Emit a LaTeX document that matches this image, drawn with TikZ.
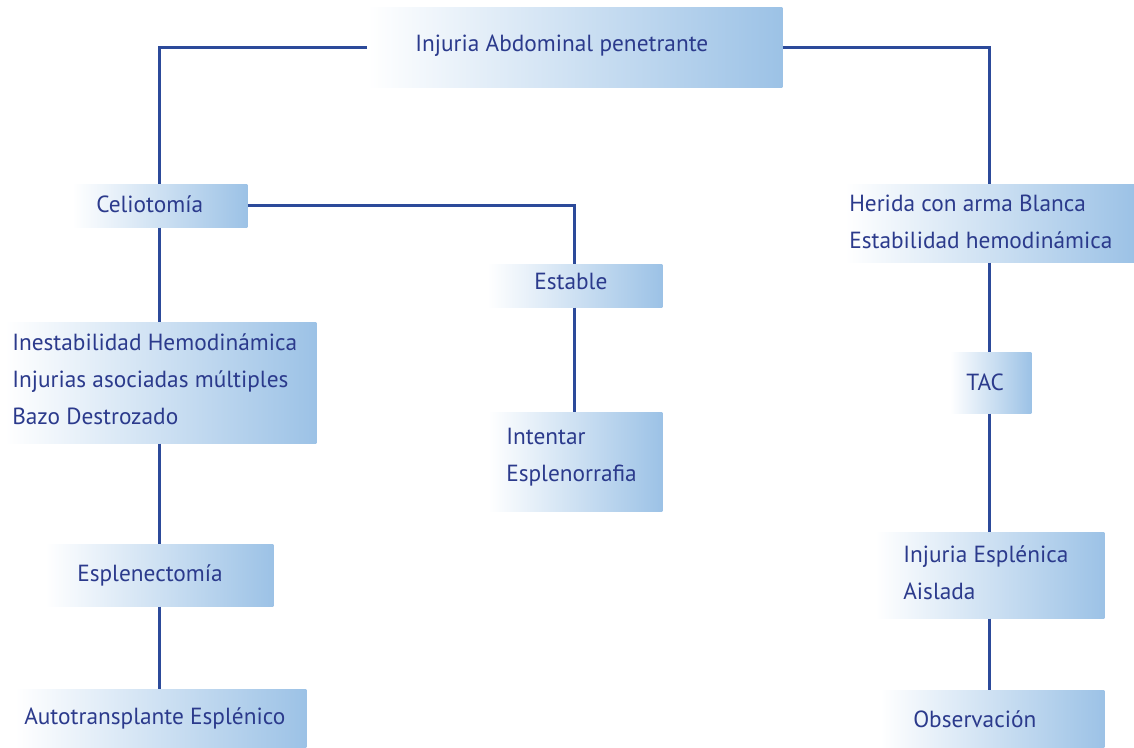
\documentclass[tikz,border=0pt]{standalone}
\usepackage{fontspec}
\setmainfont{PT Sans}
\definecolor{boxblue}{HTML}{9CC2E6}
\definecolor{txtblue}{HTML}{2B3A8C}
\definecolor{lineblue}{HTML}{2C4A9A}
\newlength\px \setlength\px{0.75pt}
\begin{document}
\begin{tikzpicture}[x=0.75pt,y=-0.75pt,
  box/.style={anchor=north west, inner sep=0pt, left color=white, right color=boxblue, draw=none},
  lbl/.style={anchor=west, inner sep=0pt, align=left, text=txtblue, font=\fontsize{17.5}{27.75}\selectfont},
  conn/.style={draw=lineblue, line width=2pt}]
\useasboundingbox (0,0) rectangle (1134,747);
% boxes
\node[box, minimum width=415*\px, minimum height=80*\px] (top) at (367,7) {};
\node[box, minimum width=175*\px, minimum height=43*\px] (celio) at (72,184) {};
\node[box, minimum width=289*\px, minimum height=78*\px] (herida) at (845,184) {};
\node[box, minimum width=175*\px, minimum height=43*\px] (estable) at (487,264) {};
\node[box, minimum width=311*\px, minimum height=121*\px] (inest) at (5,322) {};
\node[box, minimum width=81*\px, minimum height=61*\px] (tac) at (950,352) {};
\node[box, minimum width=174*\px, minimum height=99*\px] (intentar) at (488,412) {};
\node[box, minimum width=228*\px, minimum height=62*\px] (espl) at (45,544) {};
\node[box, minimum width=229*\px, minimum height=86*\px] (injesp) at (875,532) {};
\node[box, minimum width=291*\px, minimum height=58*\px] (auto) at (15,689) {};
\node[box, minimum width=224*\px, minimum height=57*\px] (obs) at (880,690) {};
% labels
\node[lbl] (ttop) at ([xshift=48*\px, yshift=2*\px]top.west) {Injuria Abdominal penetrante};
\node[lbl] (tcelio) at ([xshift=24*\px, yshift=2*\px]celio.west) {Celiotomía};
\node[lbl] (therida) at ([xshift=4*\px, yshift=1*\px]herida.west) {Herida con arma Blanca\\Estabilidad hemodinámica};
\node[lbl] (testable) at ([xshift=47*\px, yshift=4*\px]estable.west) {Estable};
\node[lbl] (tinest) at ([xshift=7*\px, yshift=4*\px]inest.west) {Inestabilidad Hemodinámica\\Injurias asociadas múltiples\\Bazo Destrozado};
\node[lbl] (ttac) at ([xshift=16*\px]tac.west) {TAC};
\node[lbl] (tintentar) at ([xshift=18*\px, yshift=5*\px]intentar.west) {Intentar\\Esplenorrafia};
\node[lbl] (tespl) at ([xshift=32*\px]espl.west) {Esplenectomía};
\node[lbl] (tinjesp) at ([xshift=28*\px, yshift=3*\px]injesp.west) {Injuria Esplénica\\Aislada};
\node[lbl] (tauto) at ([xshift=9*\px]auto.west) {Autotransplante Esplénico};
\node[lbl] (tobs) at ([xshift=33*\px]obs.west) {Observación};
% connectors
\draw[conn] (top.west) -| (celio.north);
\draw[conn] (top.east) -| (herida.north);
\draw[conn] (celio.east) -| (estable.north);
\draw[conn] (celio.south) -- (celio.south |- inest.north);
\draw[conn] (estable.south) -- (estable.south |- intentar.north);
\draw[conn] (inest.south -| celio.south) -- (celio.south |- espl.north);
\draw[conn] (espl.south -| celio.south) -- (celio.south |- auto.north);
\draw[conn] (herida.south) -- (herida.south |- tac.north);
\draw[conn] (tac.south -| herida.south) -- (herida.south |- injesp.north);
\draw[conn] (injesp.south -| herida.south) -- (herida.south |- obs.north);
\end{tikzpicture}
\end{document}
